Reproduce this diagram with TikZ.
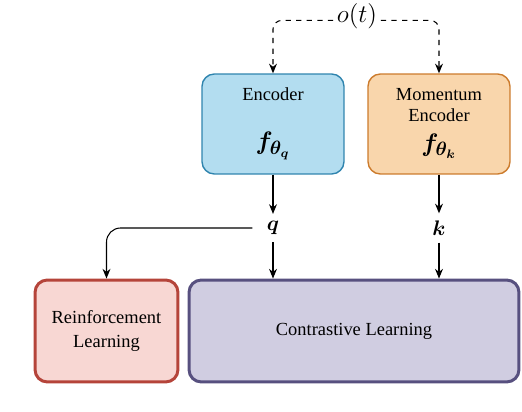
\documentclass[tikz,border=0pt]{standalone}
\usepackage{amsmath,bm}
\usepackage{fontspec}
\setmainfont{Liberation Serif}
\usetikzlibrary{arrows.meta}
\definecolor{encfill}{HTML}{B3DDF0}
\definecolor{encdraw}{HTML}{2F84AE}
\definecolor{momfill}{HTML}{F9D6AC}
\definecolor{momdraw}{HTML}{CC7B2C}
\definecolor{rlfill}{HTML}{F8D7D3}
\definecolor{rldraw}{HTML}{B5443A}
\definecolor{clfill}{HTML}{D0CDE1}
\definecolor{cldraw}{HTML}{57507F}
\tikzset{
    block/.style={shape=rectangle, rounded corners=7pt, align=center, font=\fontsize{10.5}{13}\selectfont},
    topbox/.style={block, line width=0.8pt, minimum width=2.84cm, minimum height=2cm},
    botbox/.style={block, line width=1.7pt, minimum height=2.04cm},
    flow/.style={-{Stealth[length=5.5pt,width=4.5pt]}, black, line width=0.6pt},
    vec/.style={font=\fontsize{13}{15}\selectfont, inner sep=1pt}
}
\begin{document}
\begin{tikzpicture}[x=0.02cm, y=-0.02cm]
        \useasboundingbox (0,0) rectangle (522,412);
        \node[name=ot, inner sep=2pt, font=\fontsize{14}{16}\selectfont] at (357,16) {$o(t)$};
        \node[name=enc, topbox, draw=encdraw, fill=encfill] at (273,124) {};
        \node[name=enctxt, font=\fontsize{10.5}{13}\selectfont] at (273,94) {Encoder};
        \node[name=encf, vec, font=\fontsize{15}{17}\selectfont] at (273,146) {$\bm{f_{\theta_q}}$};
        \node[name=mom, topbox, draw=momdraw, fill=momfill] at (439,124) {};
        \node[name=momtxt, font=\fontsize{10.5}{13}\selectfont, align=center] at (439,105) {Momentum\\[-1pt]Encoder};
        \node[name=momf, vec, font=\fontsize{15}{17}\selectfont] at (439,146) {$\bm{f_{\theta_k}}$};
        \node[name=q, vec, inner xsep=8pt, inner ysep=4pt] at (273,228) {$\bm{q}$};
        \node[name=k, vec, inner ysep=4pt] at (439,228) {$\bm{k}$};
        \node[name=rl, botbox, draw=rldraw, fill=rlfill, minimum width=2.86cm] at (106.5,331) {Reinforcement\\[1pt]Learning};
        \node[name=cl, botbox, draw=cldraw, fill=clfill, minimum width=6.6cm] at (354,331) {Contrastive Learning};
        \draw[flow, dashed, rounded corners=5pt] ([yshift=-2.5pt]ot.west) -| (enc.north);
        \draw[flow, dashed, rounded corners=5pt] ([yshift=-2.5pt]ot.east) -| (mom.north);
        \draw[flow] (enc.south) -- (q.north);
        \draw[flow] (mom.south) -- (k.north);
        \draw[flow, rounded corners=8pt] (q.west) -| (rl.north);
        \draw[flow] (q.south) -- (q.south |- cl.north);
        \draw[flow] (k.south) -- (k.south |- cl.north);
\end{tikzpicture}
\end{document}
